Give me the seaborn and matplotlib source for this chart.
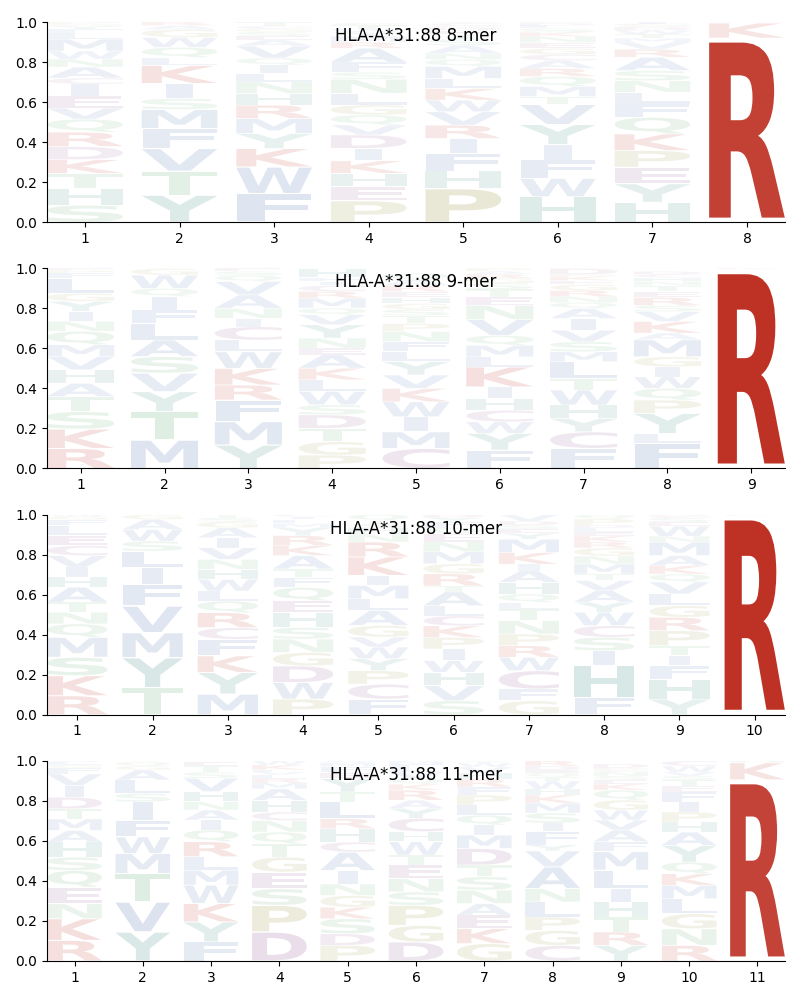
import numpy as np
import matplotlib
matplotlib.use("Agg")
import matplotlib.pyplot as plt
import seaborn as sns
from matplotlib.textpath import TextPath
from matplotlib.patches import PathPatch
from matplotlib.font_manager import FontProperties
from matplotlib.transforms import Affine2D

allele = "HLA-A*31:88"
peptide_lengths = [8, 9, 10, 11]

# letters of each position, bottom -> top, and their heights (probabilities)
mer8_letters = ["SHTKDRQVEICANWMLFYGP", "YTVFMSIKLQWGAR", "FWKYMRHNLIQVAESGCT",
                "PEHKIDVQGLNSFARMYWTC", "PHFIRVWKLMQNASTEDGCY", "HWFIYVTMQRACGENKSLDP",
                "HYEPKQFLNSARVMTWDGCI", "RKQH"]
mer8_heights = [
    [.085, .083, .075, .07, .065, .072, .065, .055, .06, .06, .03, .055, .04, .04, .06, .03, .02, .015, .01, .01],
    [.135, .12, .113, .1, .095, .055, .075, .09, .04, .05, .05, .04, .02, .017],
    [.143, .133, .092, .075, .075, .067, .058, .058, .042, .042, .035, .06, .03, .02, .02, .015, .015, .02],
    [.107, .07, .067, .063, .062, .067, .05, .05, .05, .058, .07, .035, .05, .07, .03, .03, .02, .015, .02, .01],
    [.168, .088, .087, .075, .067, .067, .058, .058, .05, .06, .035, .03, .04, .03, .025, .02, .015, .01, .01, .007],
    [.127, .092, .092, .077, .1, .1, .04, .05, .05, .04, .04, .03, .03, .03, .03, .02, .02, .015, .01, .007],
    [.1, .092, .083, .083, .083, .083, .067, .058, .058, .05, .067, .04, .035, .02, .02, .02, .015, .01, .008, .008],
    [.92, .075, .003, .002],
]

mer9_letters = ["RKSTAHVMQNIYGLFPE", "MTYVSALFIQWG", "YMFRKWLCINAVQSE",
                "PGTDSWLKAENYVQMRCIFH", "CMIWKVYLFNPTSGHERAQ", "FYWCHIKLMQVNETSGRAP",
                "FCYHWTLMSVIAQNRGEKPD", "FLYPQWIGMAKVSRETNHCD", "RK"]
mer9_heights = [
    [.1, .097, .087, .075, .067, .067, .067, .058, .067, .05, .05, .05, .04, .075, .025, .015, .01],
    [.142, .142, .1, .092, .083, .083, .083, .067, .067, .04, .067, .033],
    [.117, .117, .108, .075, .083, .083, .058, .067, .042, .05, .067, .067, .03, .02, .016],
    [.067, .067, .067, .067, .05, .067, .058, .058, .067, .033, .05, .067, .05, .033, .05, .033, .03, .02, .02, .045],
    [.1, .083, .075, .075, .067, .067, .067, .05, .05, .05, .04, .04, .03, .03, .03, .03, .03, .03, .03],
    [.092, .083, .058, .058, .058, .058, .1, .05, .058, .05, .08, .07, .04, .04, .03, .025, .02, .015, .015],
    [.1, .083, .067, .067, .075, .058, .083, .05, .05, .058, .058, .05, .03, .03, .03, .03, .02, .02, .01, .03],
    [.125, .05, .1, .067, .058, .058, .05, .05, .085, .033, .058, .05, .03, .04, .03, .03, .02, .02, .015, .015],
    [.995, .005],
]

mer10_letters = ["RKSMQNTAHIVCELFGW", "TYMVFILSWAG", "MYKFCRQLWHNVIAGST",
                 "PWDGNSHEQFTAKRYMLIC", "FCPYWVGALMIKRNHSTQ", "SVHWIPKCLATRGMNEQFYD",
                 "GFCWRPNTLQHAIKMYESDV", "FHISCWYAVTMNGRKELDPQ", "YHFITPRGLVQKAMNWESCD", "RK"]
mer10_heights = [
    [.095, .1, .092, .1, .067, .058, .05, .075, .05, .05, .058, .05, .05, .05, .03, .015, .01],
    [.135, .15, .125, .133, .108, .083, .083, .05, .058, .05, .025],
    [.103, .108, .083, .083, .058, .075, .058, .05, .058, .05, .05, .058, .05, .05, .03, .02, .016],
    [.078, .083, .083, .067, .067, .058, .075, .058, .067, .05, .042, .067, .05, .05, .04, .02, .02, .015, .01],
    [.078, .075, .067, .06, .058, .05, .058, .075, .058, .067, .05, .092, .075, .04, .03, .02, .017, .03],
    [.07, .075, .067, .058, .058, .058, .058, .05, .05, .07, .03, .06, .05, .06, .05, .04, .03, .03, .02, .016],
    [.07, .058, .092, .067, .058, .058, .067, .058, .033, .042, .058, .058, .033, .058, .067, .03, .02, .02, .02, .033],
    [.087, .158, .075, .067, .058, .067, .05, .058, .05, .033, .05, .04, .04, .03, .03, .02, .02, .015, .03, .022],
    [.078, .1, .067, .05, .05, .075, .067, .058, .058, .06, .04, .042, .05, .067, .03, .05, .02, .02, .01, .008],
    [.995, .005],
]

mer11_letters = ["RKNEQSHAMTDIVFGLW", "YVTMWFISLAGQ", "FYKWMLRQIANHVSTE",
                 "DPSEGTQNCHAMRLVFKW", "PDSKGNIACHRLTYEFMV", "DGPSNETWHCYARKQVLFM",
                 "GKEANSTDMIQLPFRHVWY", "CGPLNAVYFISMKHWTQEDR", "YRTHILMFAVWGQKESNCPD",
                 "RNGLMKQYAHPIFETSVWC", "RKQH"]
mer11_heights = [
    [.103, .108, .075, .083, .083, .067, .075, .058, .058, .05, .058, .058, .058, .03, .015, .015, .006],
    [.145, .15, .142, .1, .083, .083, .092, .042, .067, .05, .02, .02],
    [.095, .1, .092, .092, .075, .067, .075, .058, .05, .05, .042, .05, .067, .03, .03, .02],
    [.145, .133, .083, .083, .075, .067, .058, .058, .042, .058, .058, .03, .02, .02, .015, .01, .025, .02],
    [.078, .058, .075, .058, .058, .058, .067, .092, .05, .067, .05, .083, .05, .067, .03, .03, .02, .009],
    [.095, .083, .1, .067, .067, .067, .05, .067, .05, .067, .05, .04, .05, .03, .03, .03, .02, .02, .015],
    [.087, .075, .067, .058, .067, .067, .058, .083, .067, .05, .05, .05, .05, .04, .04, .03, .03, .02, .01],
    [.078, .075, .067, .075, .067, .108, .08, .03, .067, .042, .05, .05, .04, .03, .04, .02, .02, .015, .02, .026],
    [.078, .067, .075, .075, .067, .092, .092, .05, .058, .05, .05, .05, .05, .03, .02, .02, .02, .01, .01, .02],
    [.078, .083, .075, .075, .067, .058, .058, .083, .067, .05, .05, .05, .05, .03, .03, .02, .02, .03, .026],
    [.905, .085, .005, .005],
]

group_colors = {
    "RK": "#BE3024",
    "DEC": "#8C508C",
    "PG": "#96913C",
    "HY": "#3C8C82",
    "STNQ": "#55A868",
    "FWMVLIA": "#4C72B0",
}
letter_color = {ch: col for grp, col in group_colors.items() for ch in grp}

sns.set_style("ticks", rc={
    "axes.edgecolor": "black", "xtick.color": "black", "ytick.color": "black",
    "text.color": "black", "axes.labelcolor": "black",
    "xtick.major.size": 3.5, "ytick.major.size": 3.5,
    "axes.linewidth": 0.8,
})
plt.rcParams["font.family"] = ["DejaVu Sans"]

FP = FontProperties(family="DejaVu Sans", weight="bold")
REF_W = TextPath((0, 0), "E", size=1, prop=FP).get_extents().width


def draw_glyph(ax, ch, x, y0, h, width=0.8, vpad=0.05):
    path = TextPath((0, 0), ch, size=1, prop=FP)
    ext = path.get_extents()
    sx = width / max(ext.width, REF_W)
    sy = h * (1 - vpad) / ext.height
    tr = (Affine2D().translate(-ext.x0 - ext.width / 2, -ext.y0)
          .scale(sx, sy).translate(x, y0 + h * vpad / 2))
    alpha = min(1.0, 0.05 + 0.95 * h)
    ax.add_patch(PathPatch(tr.transform_path(path), facecolor=letter_color[ch],
                           edgecolor="none", alpha=alpha, lw=0))


fig, axes = plt.subplots(4, 1, figsize=(8, 10), dpi=100)
fig.subplots_adjust(left=0.059, right=0.981, top=0.978, bottom=0.039, hspace=0.23)

panels = [(mer8_letters, mer8_heights), (mer9_letters, mer9_heights),
          (mer10_letters, mer10_heights), (mer11_letters, mer11_heights)]

for ax, L, (letters, heights) in zip(axes, peptide_lengths, panels):
    for i, (lets, hs) in enumerate(zip(letters, heights)):
        pos = i + 1
        bottom = 0.0
        for ch, h in zip(lets, hs):
            draw_glyph(ax, ch, pos, bottom, h)
            bottom += h
    ax.set_xlim(0.6, L + 0.4)
    ax.set_ylim(0, 1)
    ax.set_xticks(range(1, L + 1))
    ax.set_yticks(np.round(np.arange(0, 1.01, 0.2), 1))
    ax.text(0.5, 0.93, f"{allele} {L}-mer", transform=ax.transAxes,
            ha="center", va="center", fontsize=12)
    sns.despine(ax=ax)

fig.savefig("out.png", dpi=100)
